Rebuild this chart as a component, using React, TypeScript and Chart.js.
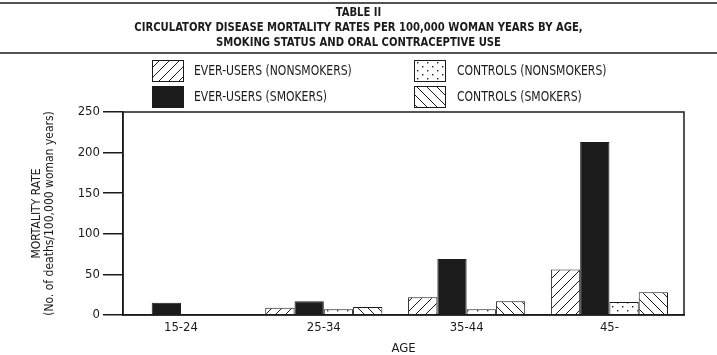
import React, { useEffect, useRef } from 'react';
import { Chart, registerables } from 'chart.js';

Chart.register(...registerables);

const FONT = '"Liberation Sans Narrow", "DejaVu Sans Condensed", "Arial Narrow", sans-serif';
const INK = '#1b1b1b';

const titleLines = [
  'TABLE II',
  'CIRCULATORY DISEASE MORTALITY RATES PER 100,000 WOMAN YEARS BY AGE,',
  'SMOKING STATUS AND ORAL CONTRACEPTIVE USE',
];
const ageGroups = ['15-24', '25-34', '35-44', '45-'];
const seriesLabels = [
  'EVER-USERS (NONSMOKERS)',
  'EVER-USERS (SMOKERS)',
  'CONTROLS (NONSMOKERS)',
  'CONTROLS (SMOKERS)',
];
const everUsersNonsmokers = [null, 9, 22, 56];
const everUsersSmokers = [15, 17, 69, 213];
const controlsNonsmokers = [null, 7, 7, 16];
const controlsSmokers = [null, 10, 17, 28];
const yAxisTitle = ['MORTALITY RATE', '(No. of deaths/100,000 woman years)'];
const xAxisTitle = 'AGE';
const yMin = 0;
const yMax = 250;
const yStep = 50;

function makePattern(kind: string): CanvasPattern | string {
  const c = document.createElement('canvas');
  const w = 10;
  const h = kind === 'dots' ? 8 : 10;
  c.width = w;
  c.height = h;
  const g = c.getContext('2d')!;
  g.fillStyle = '#fff';
  g.fillRect(0, 0, w, h);
  g.strokeStyle = INK;
  g.fillStyle = INK;
  g.lineWidth = 1;
  if (kind === 'slash') {
    g.beginPath();
    g.moveTo(-1, h + 1);
    g.lineTo(w + 1, -1);
    g.moveTo(-1, 1);
    g.lineTo(1, -1);
    g.moveTo(w - 1, h + 1);
    g.lineTo(w + 1, h - 1);
    g.stroke();
  } else if (kind === 'backslash') {
    g.beginPath();
    g.moveTo(-1, -1);
    g.lineTo(w + 1, h + 1);
    g.moveTo(w - 1, -1);
    g.lineTo(w + 1, 1);
    g.moveTo(-1, h - 1);
    g.lineTo(1, h + 1);
    g.stroke();
  } else if (kind === 'dots') {
    g.fillRect(2, 2, 1.4, 1.4);
    g.fillRect(7, 6, 1.4, 1.4);
  }
  return g.createPattern(c, 'repeat') || '#fff';
}

function condensedText(ctx: CanvasRenderingContext2D, text: string, x: number, y: number, sx: number) {
  ctx.save();
  ctx.translate(x, y);
  ctx.scale(sx, 1);
  ctx.fillText(text, 0, 0);
  ctx.restore();
}

const titlePlugin = {
  id: 'tableTitle',
  afterDraw(chart: any) {
    const ctx = chart.ctx;
    const w = chart.width;
    ctx.save();
    ctx.strokeStyle = INK;
    ctx.lineWidth = 1.5;
    ctx.beginPath();
    ctx.moveTo(0, 3);
    ctx.lineTo(w, 3);
    ctx.moveTo(0, 53);
    ctx.lineTo(w, 53);
    ctx.stroke();
    ctx.fillStyle = INK;
    ctx.font = `bold 13px ${FONT}`;
    ctx.textAlign = 'center';
    ctx.textBaseline = 'middle';
    titleLines.forEach((t, i) => condensedText(ctx, t, w / 2, 13 + i * 15, 0.86));
    ctx.restore();
  },
};

const legendPlugin = {
  id: 'gridLegend',
  afterDraw(chart: any) {
    const ctx = chart.ctx;
    const colX = [152, 414];
    const rowY = [60, 86];
    ctx.save();
    ctx.font = `14px ${FONT}`;
    ctx.textBaseline = 'middle';
    ctx.textAlign = 'left';
    chart.data.datasets.forEach((ds: any, i: number) => {
      const col = Math.floor(i / 2);
      const row = i % 2;
      const x = colX[col];
      const y = rowY[row];
      const bw = 32;
      const bh = 22;
      ctx.fillStyle = ds.backgroundColor;
      ctx.fillRect(x, y, bw, bh);
      ctx.strokeStyle = INK;
      ctx.lineWidth = 1;
      ctx.strokeRect(x + 0.5, y + 0.5, bw - 1, bh - 1);
      ctx.fillStyle = INK;
      condensedText(ctx, ds.label, x + bw + 10 + col, y + bh / 2 + 0.5, 0.86);
    });
    ctx.restore();
  },
};

const framePlugin = {
  id: 'frame',
  afterDraw(chart: any) {
    const { left, right, top, bottom } = chart.chartArea;
    const ctx = chart.ctx;
    ctx.save();
    ctx.strokeStyle = INK;
    ctx.lineWidth = 1.5;
    ctx.strokeRect(left, top, right - left, bottom - top);
    ctx.restore();
  },
};

export default function App() {
  const ref = useRef<HTMLCanvasElement>(null);

  useEffect(() => {
    document.body.style.margin = '0';
    const canvas = ref.current!;
    const toPoints = (arr: (number | null)[]) => arr.map((v, i) => ({ x: i, y: v }));
    const fills = [makePattern('slash'), INK, makePattern('dots'), makePattern('backslash')];
    const series = [everUsersNonsmokers, everUsersSmokers, controlsNonsmokers, controlsSmokers];

    const chart = new Chart(canvas, {
      type: 'bar',
      data: {
        datasets: series.map((s, i) => ({
          label: seriesLabels[i],
          data: toPoints(s) as any,
          backgroundColor: fills[i] as any,
          borderColor: INK,
          borderWidth: 1,
          barPercentage: 1,
          categoryPercentage: 0.82,
        })),
      },
      options: {
        responsive: false,
        animation: false,
        layout: { padding: { top: 112, right: 33, left: 0, bottom: 0 } },
        plugins: {
          legend: { display: false },
          title: { display: false },
          tooltip: { enabled: false },
        },
        scales: {
          x: {
            type: 'linear',
            min: -0.406,
            max: 3.522,
            offset: false,
            grid: { display: false, drawTicks: false, offset: false },
            border: { display: true, color: INK, width: 1.5 },
            afterBuildTicks: (scale: any) => {
              scale.ticks = ageGroups.map((_, i) => ({ value: i }));
            },
            afterFit: (scale: any) => {
              scale.height = 40;
            },
            ticks: {
              color: INK,
              font: { family: FONT, size: 13 },
              padding: 5,
              autoSkip: false,
              maxRotation: 0,
              callback: (v: any) => ageGroups[v] ?? '',
            },
            title: {
              display: true,
              text: xAxisTitle,
              color: INK,
              font: { family: FONT, size: 13, lineHeight: 1 },
              padding: 0,
            },
          },
          y: {
            type: 'linear',
            min: yMin,
            max: yMax,
            grid: {
              drawOnChartArea: false,
              drawTicks: true,
              tickLength: 20,
              color: INK,
              lineWidth: 1.5,
            },
            border: { display: true, color: INK, width: 1.5 },
            afterFit: (scale: any) => {
              scale.width = 123;
            },
            ticks: {
              stepSize: yStep,
              color: INK,
              font: { family: FONT, size: 13 },
              padding: 3,
            },
            title: {
              display: true,
              text: yAxisTitle,
              color: INK,
              font: { family: FONT, size: 12, lineHeight: '13px' as any },
              padding: { top: 30, bottom: 0 },
            },
          },
        },
      },
      plugins: [titlePlugin, legendPlugin, framePlugin],
    });
    return () => chart.destroy();
  }, []);

  return (
    <div style={{ width: 717, height: 355, background: '#fff' }}>
      <canvas ref={ref} width={717} height={355} style={{ display: 'block' }} />
    </div>
  );
}
